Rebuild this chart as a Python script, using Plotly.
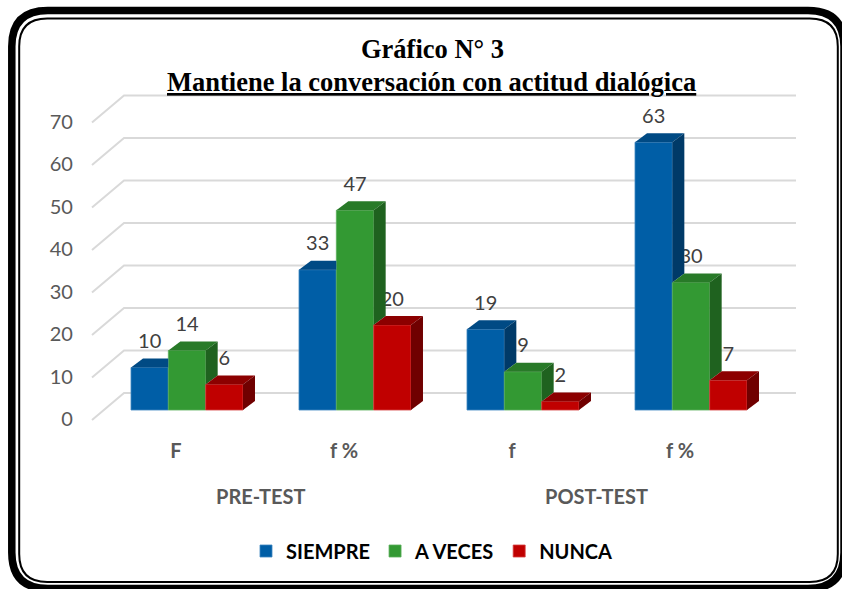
import plotly.graph_objects as go

# ---------------- data ----------------
categories = ["F", "f %", "f", "f %"]
groups = ["PRE-TEST", "PRE-TEST", "POST-TEST", "POST-TEST"]
series_names = ["SIEMPRE", "A VECES", "NUNCA"]
siempre = [10, 33, 19, 63]
a_veces = [14, 47, 9, 30]
nunca = [6, 20, 2, 7]
y_ticks = [0, 10, 20, 30, 40, 50, 60, 70]
title_line1 = "Gráfico N° 3"
title_line2 = "Mantiene la conversación con actitud dialógica"

# ---------------- style ----------------
front_colors = ["#005EA6", "#339933", "#C00000"]
edge_colors = ["#3E85C0", "#5BAF5B", "#D54040"]
top_colors = ["#004A84", "#287A28", "#8C0000"]
side_colors = ["#003A68", "#1F621F", "#700000"]

W, H = 842, 589
X0_PX, X_PX = 187.0, 168.0   # pixel of x=0, pixels per category
Y0_PX, Y_PX = 410.0, 4.25    # pixel of y=0, pixels per unit
x_range = [-0.62, 3.7]
y_range = [-3.0, 76.0]
BOX = [-0.5, 3.5]
BAR_W = 0.2222
DX_BAR, DY_BAR = 12 / X_PX, 9 / Y_PX
DX_FLOOR, DY_FLOOR = -11 / X_PX, -10 / Y_PX
DX_WALL, DY_WALL = 21 / X_PX, 17 / Y_PX
LABEL_OFF = 15.5 / Y_PX
TICK_OFF = -9 / Y_PX

x_dom = [(X0_PX + X_PX * x_range[0]) / W, (X0_PX + X_PX * x_range[1]) / W]
y_dom = [1 - (Y0_PX - Y_PX * y_range[0]) / H, 1 - (Y0_PX - Y_PX * y_range[1]) / H]

values = [siempre, a_veces, nunca]
n = len(categories)

fig = go.Figure()

# text labels (drawn under the 3D faces so side faces can hide them)
for k, name in enumerate(series_names):
    xs = [i + (k - 1) * BAR_W for i in range(n)]
    fig.add_trace(go.Scatter(
        x=xs, y=[v + DY_BAR + LABEL_OFF for v in values[k]],
        mode="text", text=[str(v) for v in values[k]],
        textposition="middle center",
        textfont=dict(family="Lato", size=20, color="#404040"),
        cliponaxis=False, showlegend=False, hoverinfo="skip"))

# front faces
for k, name in enumerate(series_names):
    xs = [i + (k - 1) * BAR_W for i in range(n)]
    fig.add_trace(go.Bar(
        x=xs, y=values[k], width=BAR_W, name=name,
        marker=dict(color=front_colors[k], line=dict(color=edge_colors[k], width=0.8))))


def poly(points):
    return "M " + " L ".join(f"{x:.5f},{y:.5f}" for x, y in points) + " Z"


shapes = []
# back wall gridlines with left diagonal
for v in y_ticks:
    pts = [(BOX[0] + DX_FLOOR, v + DY_FLOOR), (BOX[0] + DX_WALL, v + DY_WALL),
           (BOX[1] + DX_WALL, v + DY_WALL)]
    shapes.append(dict(type="path", xref="x", yref="y", layer="below",
                       path="M " + " L ".join(f"{x:.5f},{y:.5f}" for x, y in pts),
                       line=dict(color="#D9D9D9", width=2)))

# top and side faces
for i in range(n):
    for k in range(3):
        v = values[k][i]
        vn = values[k + 1][i] if k < 2 else 0
        x0 = i + (k - 1) * BAR_W - BAR_W / 2
        x1 = x0 + BAR_W
        h = min(max(vn - v, 0), DY_BAR)
        top = [(x0, v), (x1, v), (x1, v + h), (x1 + DX_BAR * h / DY_BAR, v + h),
               (x1 + DX_BAR, v + DY_BAR), (x0 + DX_BAR, v + DY_BAR)]
        if h >= DY_BAR:
            top = [(x0, v), (x1, v), (x1, v + DY_BAR), (x0 + DX_BAR, v + DY_BAR)]
        shapes.append(dict(type="path", xref="x", yref="y", layer="above",
                           path=poly(top), fillcolor=top_colors[k], line=dict(width=0)))
        if v > vn:
            side = [(x1, vn), (x1, v), (x1 + DX_BAR, v + DY_BAR), (x1 + DX_BAR, vn + DY_BAR)]
            shapes.append(dict(type="path", xref="x", yref="y", layer="above",
                               path=poly(side), fillcolor=side_colors[k], line=dict(width=0)))


# rounded double frame
def rrect(l, t, r, b, rad):
    P = lambda x, y: f"{x / W:.5f},{1 - y / H:.5f}"
    return (f"M {P(l + rad, t)} L {P(r - rad, t)} Q {P(r, t)} {P(r, t + rad)} "
            f"L {P(r, b - rad)} Q {P(r, b)} {P(r - rad, b)} L {P(l + rad, b)} "
            f"Q {P(l, b)} {P(l, b - rad)} L {P(l, t + rad)} Q {P(l, t)} {P(l + rad, t)} Z")


shapes.append(dict(type="path", xref="paper", yref="paper", layer="above",
                   path=rrect(11.8, 10.5, 844.0, 588.5, 36), line=dict(color="black", width=7.5)))
shapes.append(dict(type="path", xref="paper", yref="paper", layer="above",
                   path=rrect(19.2, 18.5, 837.8, 582.0, 28), line=dict(color="black", width=2)))

annotations = [
    dict(text=f"<b>{title_line1}</b>", x=432 / W, y=1 - 49.5 / H, xref="paper", yref="paper",
         xanchor="center", yanchor="middle", showarrow=False,
         font=dict(family="Liberation Serif", size=26.5, color="black")),
    dict(text=f"<b><u>{title_line2}</u></b>", x=431 / W, y=1 - 81.5 / H, xref="paper", yref="paper",
         xanchor="center", yanchor="middle", showarrow=False,
         font=dict(family="Liberation Serif", size=26.5, color="black")),
]
for g in dict.fromkeys(groups):
    pos = [i for i in range(n) if groups[i] == g]
    annotations.append(dict(
        text=f"<b>{g}</b>", x=sum(pos) / len(pos) + DX_FLOOR, xref="x",
        y=1 - 495.5 / H, yref="paper", xanchor="center", yanchor="middle", showarrow=False,
        font=dict(family="Lato", size=20, color="#595959")))

fig.update_layout(
    width=W, height=H, margin=dict(l=0, r=0, t=0, b=0),
    paper_bgcolor="white", plot_bgcolor="white",
    barmode="overlay", shapes=shapes, annotations=annotations,
    xaxis=dict(domain=x_dom, range=x_range, showgrid=False, zeroline=False, showline=False,
               tickmode="array", tickvals=[i + DX_FLOOR for i in range(n)], ticktext=categories,
               tickfont=dict(family="Lato", size=20, color="#595959", weight="bold"),
               ticks="", ticklabelstandoff=14, fixedrange=True, automargin=False),
    yaxis=dict(domain=y_dom, range=y_range, showgrid=False, zeroline=False, showline=False,
               tickmode="array", tickvals=[v + TICK_OFF for v in y_ticks],
               ticktext=[str(v) for v in y_ticks],
               tickfont=dict(family="Lato", size=20, color="#595959"),
               ticks="", ticklabelstandoff=9, fixedrange=True, automargin=False),
    legend=dict(orientation="h", x=432 / W, xanchor="center", y=1 - 551 / H, yanchor="middle",
                font=dict(family="Lato", size=20, color="black", weight="bold"),
                bgcolor="rgba(0,0,0,0)", itemclick=False, itemdoubleclick=False),
    showlegend=True,
)

fig.write_html(
    "out.html", config={"displayModeBar": False},
    post_script=("var s=document.documentElement.style; s.margin='0'; s.padding='0'; s.overflow='hidden';"
                 "var b=document.body.style; b.margin='0'; b.padding='0'; b.overflow='hidden';"
                 "b.lineHeight='0'; b.height='589px';"))
